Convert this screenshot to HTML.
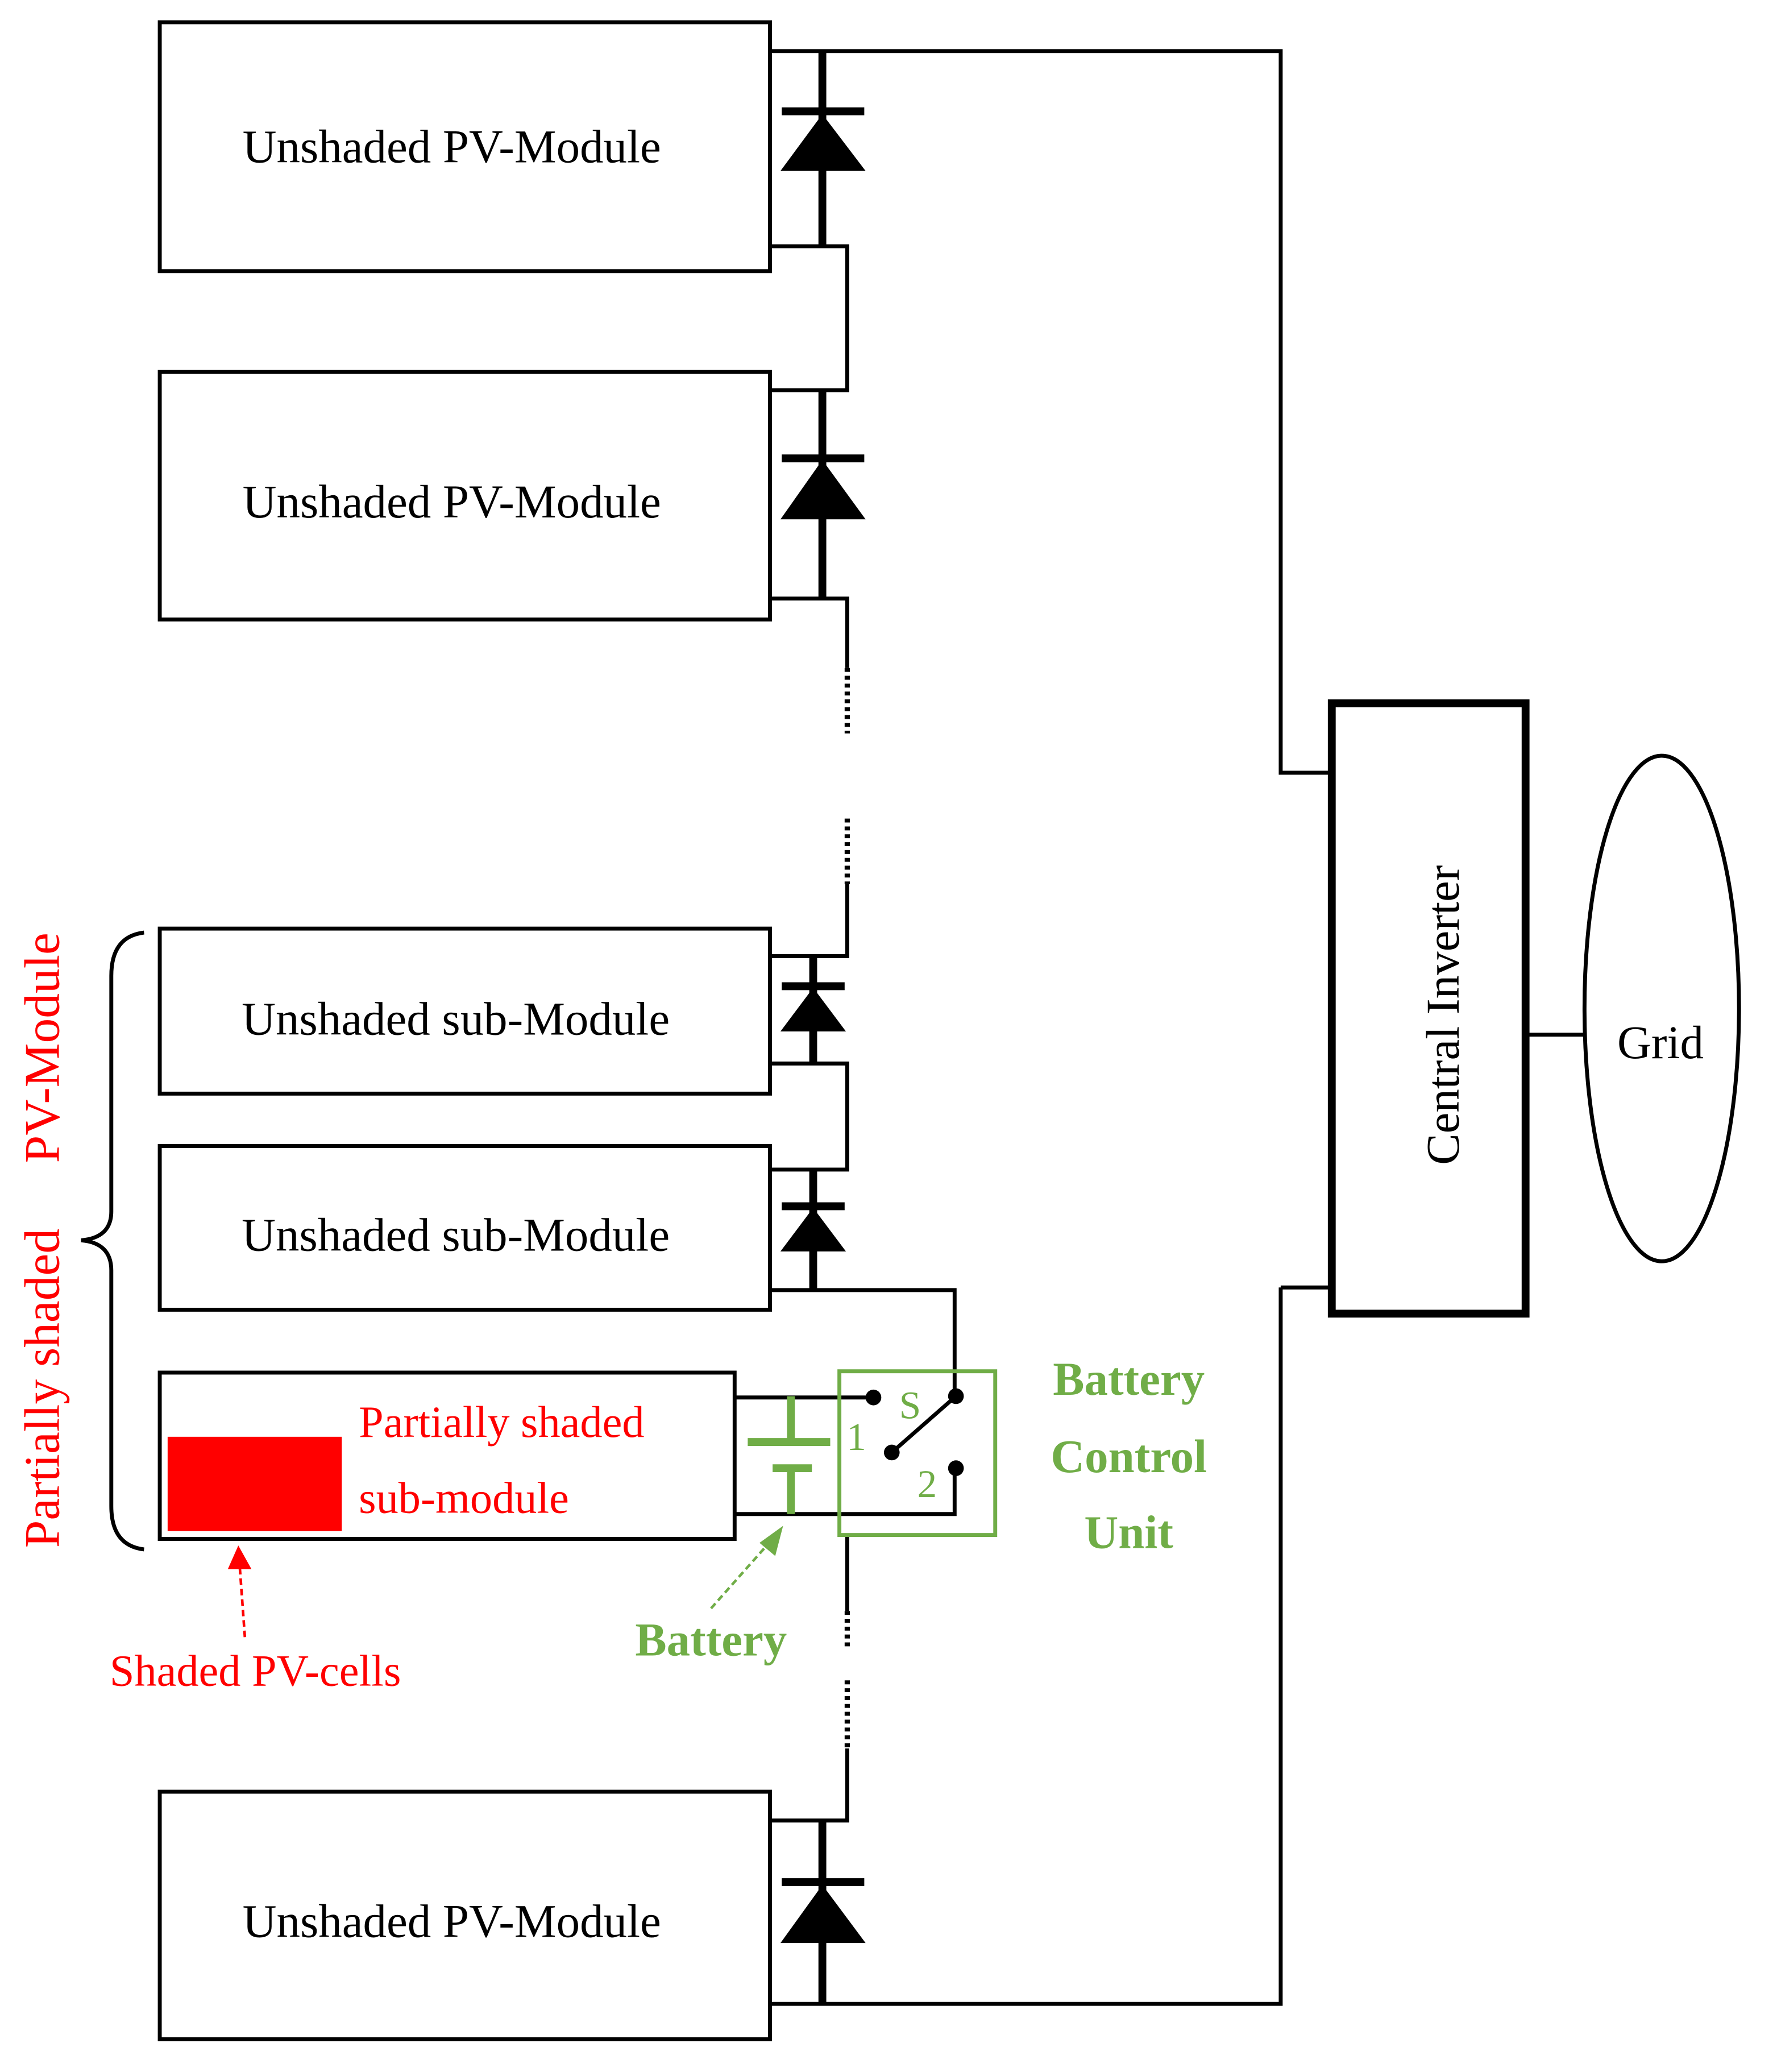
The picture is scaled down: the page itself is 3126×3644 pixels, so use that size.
<!DOCTYPE html>
<html><head><meta charset="utf-8"><style>html,body{margin:0;padding:0;background:#fff}svg{display:block}</style></head><body>
<svg width="3126" height="3644" viewBox="0 0 1357 1582" preserveAspectRatio="none" xmlns="http://www.w3.org/2000/svg" font-family="Liberation Serif, serif">
<g fill="none" stroke="#000" stroke-width="3">
<rect x="122" y="17" width="466" height="190"/>
<rect x="122" y="284" width="466" height="189"/>
<rect x="122" y="709" width="466" height="126"/>
<rect x="122" y="875" width="466" height="125"/>
<rect x="122" y="1048" width="439" height="127"/>
<rect x="122" y="1368" width="466" height="189"/>
<rect x="1017" y="537" width="148" height="466" stroke-width="6"/>
<ellipse cx="1269" cy="770" rx="59" ry="193"/>
<path d="M588 39H978V590H1017M978 983H1017M978 983V1530H588M1165 790H1210"/>
<path d="M588 188H647V298H588M588 457H647V510M647 675V730H588M588 812H647V893H588M588 985H729V1063M561 1067H667M561 1156H729V1121M647 1172V1230M647 1335V1390H588"/>
<path d="M647 510V560M647 625V675M647 1230V1258M647 1283V1335" stroke-dasharray="3 3" stroke-width="4"/>
<path d="M730 1066L681 1109"/>
<path d="M110 712Q85 715 85 745V925Q85 945 62 947Q85 949 85 970V1150Q85 1180 110 1183"/>
</g>
<g stroke="#000" stroke-width="6" fill="#000">
<path d="M628 39V188M597 85H660M628 298V457M597 350H660M621 730V812M597 753H645M621 893V985M597 921H645M628 1390V1530M597 1437H660" fill="none"/>
<path d="M628 88L597 130H660Z" stroke-width="1"/>
<path d="M628 352L597 396H660Z" stroke-width="1"/>
<path d="M621 755L597 787H645Z" stroke-width="1"/>
<path d="M621 923L597 955H645Z" stroke-width="1"/>
<path d="M628 1440L597 1483H660Z" stroke-width="1"/>
</g>
<g fill="#000"><circle cx="667" cy="1067" r="6"/><circle cx="730" cy="1066" r="6"/><circle cx="681" cy="1109" r="6"/><circle cx="730" cy="1121" r="6"/></g>
<rect x="128" y="1097" width="133" height="72" fill="#ff0000"/>
<g stroke="#70AD47" fill="none">
<rect x="641" y="1047" width="119" height="125" stroke-width="3"/>
<path d="M604 1066V1101M571 1101H634M590 1121H620M604 1121V1156" stroke-width="6"/>
<path d="M543 1228L590 1175" stroke-width="2" stroke-dasharray="5 3"/>
</g>
<path d="M598 1165L580 1178L592 1188Z" fill="#70AD47"/>
<path d="M187 1250L183 1195" stroke="#f00" stroke-width="2" stroke-dasharray="5 3"/>
<path d="M182 1180L174 1198H192Z" fill="#f00"/>
<g font-size="36" text-anchor="middle" fill="#000">
<text x="345" y="124">Unshaded PV-Module</text>
<text x="345" y="395">Unshaded PV-Module</text>
<text x="348" y="790">Unshaded sub-Module</text>
<text x="348" y="955">Unshaded sub-Module</text>
<text x="345" y="1479">Unshaded PV-Module</text>
<text x="1268" y="808">Grid</text>
<text transform="translate(1114 775) rotate(-90)">Central Inverter</text>
</g>
<g font-size="34" fill="#f00">
<text x="274" y="1097">Partially shaded</text>
<text x="274" y="1155">sub-module</text>
<text x="195" y="1287" text-anchor="middle">Shaded PV-cells</text>
<text transform="translate(45 1060) rotate(-90)" text-anchor="middle" font-size="38">Partially shaded</text>
<text transform="translate(45 800) rotate(-90)" text-anchor="middle" font-size="38">PV-Module</text>
</g>
<g fill="#70AD47" font-weight="bold" font-size="36" text-anchor="middle">
<text x="862" y="1065">Battery</text>
<text x="862" y="1124">Control</text>
<text x="862" y="1182">Unit</text>
<text x="543" y="1264">Battery</text>
</g>
<g fill="#70AD47" font-size="30" text-anchor="middle">
<text x="695" y="1083">S</text><text x="654" y="1107">1</text><text x="708" y="1143">2</text>
</g>
</svg>
</body></html>
